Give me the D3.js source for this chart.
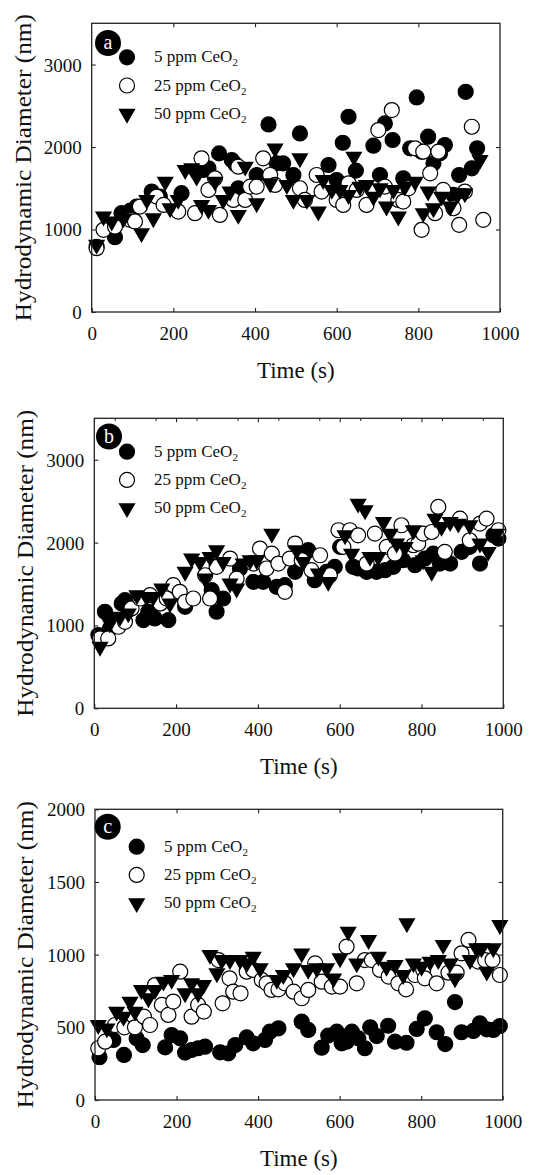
<!DOCTYPE html>
<html>
<head>
<meta charset="utf-8">
<script src="https://cdn.jsdelivr.net/npm/d3@7"></script>
<style>
  body { margin: 0; background: #fff; }
  text { font-family: "Liberation Serif", "DejaVu Serif", serif; fill: #111; }
</style>
</head>
<body>
<div id="chart"></div>
<script>
// series values, [time (s), hydrodynamic diameter (nm)]
const a5 = [[12,790],[57,907],[73,1198],[95,1230],[110,1278],[147,1460],[167,1399],[220,1440],[273,1722],[286,1742],
  [312,1923],[343,1843],[352,1790],[359,1500],[404,1661],[433,2274],[453,1802],[469,1802],[494,1661],[510,2165],
  [580,1782],[600,1600],[615,2052],[629,2367],[647,1714],[690,2016],[706,1661],[718,2286],[737,2085],[763,1621],
  [780,1984],[796,2601],[808,1944],[824,2125],[837,1802],[853,1923],[865,2024],[886,1419],[900,1661],[916,2669],
  [931,1742],[944,1984]];
const a25 = [[12,774],[29,996],[57,1036],[94,1117],[106,1097],[118,1278],[159,1399],[176,1298],[212,1218],[253,1198],
  [269,1863],[286,1480],[302,1621],[314,1177],[347,1359],[359,1762],[376,1359],[388,1520],[404,1520],[420,1863],
  [437,1661],[449,1540],[510,1500],[522,1359],[551,1661],[563,1460],[600,1359],[616,1298],[629,1560],[649,1480],
  [673,1298],[702,2206],[718,1520],[735,2448],[751,1359],[763,1339],[776,1500],[792,1984],[808,996],[812,1944],
  [829,1681],[841,1198],[849,1944],[861,1480],[886,1258],[900,1056],[914,1460],[931,2246],[959,1117]];
const a50 = [[12,815],[29,1157],[49,1097],[78,1137],[122,956],[135,1359],[151,1137],[180,1581],[192,1258],[212,1359],
  [229,1722],[245,1742],[257,1641],[269,1298],[286,1238],[302,1581],[322,1359],[339,1460],[359,1177],[376,1762],
  [404,1318],[437,1560],[449,1984],[478,1540],[494,1359],[510,1863],[527,1359],[555,1218],[567,1600],[588,1480],
  [608,1480],[629,1419],[642,1883],[657,1520],[673,1540],[690,1399],[706,1500],[722,1278],[739,1480],[751,1157],
  [767,1520],[792,1581],[812,1198],[824,1460],[837,1258],[857,1399],[878,1278],[898,1439],[914,1439],[951,1843]];

const b5 = [[10,884],[26,1165],[38,964],[51,1064],[67,1265],[75,1305],[83,1185],[120,1064],[132,1165],[148,1084],
  [161,1265],[181,1064],[222,1225],[287,1426],[299,1165],[315,1325],[356,1687],[389,1526],[413,1526],[446,1466],
  [466,1486],[491,1647],[523,1908],[539,1546],[568,1647],[588,1707],[601,1948],[633,1707],[645,1687],[666,1647],
  [690,1647],[711,1667],[731,1707],[755,1787],[784,1727],[808,1807],[829,1867],[845,1747],[870,1747],[898,1888],
  [918,1948],[943,1747],[976,2088],[988,2048]];
const b25 = [[14,843],[34,843],[59,984],[75,1044],[91,1205],[112,1325],[136,1365],[161,1265],[177,1325],[193,1486],
  [209,1406],[222,1285],[242,1325],[271,1606],[283,1325],[299,1707],[332,1807],[348,1566],[389,1747],[405,1928],
  [421,1687],[434,1867],[450,1747],[466,1406],[478,1807],[491,1988],[507,1787],[531,1667],[552,1847],[576,1606],
  [597,2149],[609,1948],[625,2149],[645,2088],[666,1747],[686,2108],[715,1948],[735,1867],[751,2209],[780,1968],
  [792,1988],[804,2108],[825,2128],[841,2430],[857,1888],[894,2289],[918,2028],[943,2229],[959,2289],[988,2149]];
const b50 = [[14,743],[38,1024],[63,1104],[83,1145],[104,1365],[128,1345],[144,1345],[165,1446],[185,1265],[222,1647],
  [238,1807],[258,1767],[271,1566],[283,1827],[299,1908],[315,1767],[332,1506],[348,1446],[364,1747],[381,1787],
  [397,1787],[434,2108],[495,1908],[511,1767],[548,1627],[572,1526],[613,2088],[629,1867],[645,2470],[662,2390],
  [674,1827],[694,1827],[707,2249],[723,2108],[739,1988],[760,1948],[780,2149],[804,1787],[825,1647],[833,2289],
  [849,2189],[870,2249],[890,2229],[918,2209],[943,1988],[963,1888],[984,2108]];

const c5 = [[11,294],[45,413],[71,310],[102,424],[117,378],[172,362],[188,447],[209,424],[221,326],[237,344],
  [253,356],[270,367],[307,328],[327,321],[344,378],[372,431],[388,390],[417,413],[429,470],[450,493],
  [507,539],[523,482],[556,360],[572,443],[593,470],[605,390],[617,401],[630,470],[646,424],[662,356],
  [675,500],[691,440],[719,511],[736,401],[764,394],[789,489],[809,562],[838,466],[859,385],[883,674],
  [899,466],[928,475],[944,528],[961,486],[977,482],[993,509]];
const c25 = [[8,356],[25,401],[49,516],[72,500],[98,500],[120,573],[135,516],[147,791],[164,654],[180,585],
  [192,677],[209,883],[237,573],[253,654],[267,608],[303,963],[313,665],[330,837],[339,745],[357,734],
  [372,883],[388,895],[409,826],[421,803],[433,757],[450,761],[466,803],[487,745],[507,700],[523,757],
  [540,940],[556,814],[581,780],[601,780],[617,1055],[642,803],[662,963],[679,963],[699,895],[720,849],
  [744,803],[763,761],[785,860],[805,895],[809,837],[838,803],[867,876],[887,876],[899,1009],[916,1101],
  [940,952],[957,963],[975,963],[993,860]];
const c50 = [[8,516],[29,493],[53,608],[70,573],[86,677],[98,608],[114,757],[131,700],[147,757],[168,814],
  [188,826],[221,734],[237,803],[253,734],[266,791],[282,998],[299,872],[311,963],[331,963],[356,963],
  [372,940],[388,986],[405,906],[446,826],[462,860],[487,906],[507,1009],[523,895],[544,906],[568,906],
  [585,837],[601,975],[621,1158],[642,940],[671,1101],[695,986],[715,917],[736,929],[756,860],[765,1216],
  [781,940],[801,917],[822,952],[842,963],[854,1067],[871,940],[883,837],[920,963],[936,1044],[948,1044],
  [961,883],[977,1044],[993,1204]];

const seriesNames = ["5 ppm CeO", "25 ppm CeO", "50 ppm CeO"];
const xTicks = [0, 200, 400, 600, 800, 1000];
const yTicksAB = [0, 1000, 2000, 3000];
const yTicksC = [0, 500, 1000, 1500, 2000];

const panels = [
  {label: "a", data: [a5, a25, a50], yMax: 3500, yTicks: yTicksAB,
   left: 91.7, right: 500, top: 23.3, bottom: 312, yLab: 31, legX: 127, legY: 57.3, textX: 154, badge: [108, 43], minorTop: false},
  {label: "b", data: [b5, b25, b50], yMax: 3500, yTicks: yTicksAB,
   left: 94.3, right: 503.3, top: 418.3, bottom: 708.3, yLab: 33, legX: 127, legY: 451.7, textX: 154, badge: [109, 436.5], minorTop: true},
  {label: "c", data: [c5, c25, c50], yMax: 2000, yTicks: yTicksC,
   left: 95, right: 502.7, top: 809.3, bottom: 1100, yLab: 33, legX: 136.7, legY: 846.7, textX: 164, badge: [107.7, 826.7], minorTop: false}
];

const svg = d3.select('#chart')
    .append('svg')
    .attr('width', 552)
    .attr('height', 1175);

const triangle = d3.symbol().type(d3.symbolTriangle).size(128);

function marker(sel, i) {
    if (i === 2) {
        sel.append('path')
            .attr('d', triangle)
            .attr('transform', 'rotate(180)')
            .attr('fill', '#000');
    } else {
        sel.append('circle')
            .attr('r', 7.5)
            .attr('fill', i === 0 ? '#000' : '#fff')
            .attr('stroke', '#000')
            .attr('stroke-width', 1.2);
    }
}

panels.forEach(p => {
    const x = d3.scaleLinear().domain([0, 1000]).range([p.left, p.right]);
    const y = d3.scaleLinear().domain([0, p.yMax]).range([p.bottom, p.top]);
    const g = svg.append('g');

    // points: 5 ppm, then 25 ppm, then 50 ppm on top
    p.data.forEach((series, i) => {
        g.append('g').selectAll('g')
            .data(series)
            .enter()
            .append('g')
            .attr('transform', d => `translate(${x(d[0])},${y(d[1])})`)
            .each(function() { marker(d3.select(this), i); });
    });

    // frame with inward ticks on all sides
    g.append('rect')
        .attr('x', p.left).attr('y', p.top)
        .attr('width', p.right - p.left).attr('height', p.bottom - p.top)
        .attr('fill', 'none').attr('stroke', '#222').attr('stroke-width', 1.3);

    const tl = 4;
    const gx = g.append('g').attr('transform', `translate(0,${p.bottom})`)
        .call(d3.axisBottom(x).tickValues(xTicks).tickSize(-tl).tickFormat(d3.format('d')));
    g.append('g').attr('transform', `translate(0,${p.top})`)
        .call(d3.axisTop(x).tickValues(xTicks.slice(1, -1)).tickSize(-tl).tickFormat(''));
    const gy = g.append('g').attr('transform', `translate(${p.left},0)`)
        .call(d3.axisLeft(y).tickValues(p.yTicks).tickSize(-tl).tickPadding(10).tickFormat(d3.format('d')));
    g.append('g').attr('transform', `translate(${p.right},0)`)
        .call(d3.axisRight(y).tickValues(p.yTicks.slice(1, -1)).tickSize(-tl).tickFormat(''));

    if (p.minorTop) {
        g.append('g').attr('transform', `translate(0,${p.top})`)
            .call(d3.axisTop(x).tickValues(d3.range(50, 1000, 100)).tickSize(-2.5).tickFormat(''));
    }

    g.selectAll('.domain').remove();
    g.selectAll('.tick line').attr('stroke', '#222').attr('stroke-width', 1.1);
    g.selectAll('.tick text').attr('font-size', 19).attr('fill', '#111')
        .attr('font-family', '"Liberation Serif", serif');
    gx.selectAll('text').attr('dy', null).attr('y', 28);
    gy.selectAll('text').attr('dy', '0.34em');

    // axis titles
    g.append('text')
        .attr('x', (p.left + p.right) / 2)
        .attr('y', p.bottom + 66)
        .attr('text-anchor', 'middle')
        .attr('font-size', 23)
        .text('Time (s)');

    g.append('text')
        .attr('transform', `translate(${p.yLab},${(p.top + p.bottom) / 2}) rotate(-90)`)
        .attr('text-anchor', 'middle')
        .attr('font-size', 23)
        .attr('textLength', 307)
        .attr('lengthAdjust', 'spacingAndGlyphs')
        .text('Hydrodynamic Diameter (nm)');

    // panel badge
    g.append('circle')
        .attr('cx', p.badge[0]).attr('cy', p.badge[1]).attr('r', 13)
        .attr('fill', '#000');
    g.append('text')
        .attr('x', p.badge[0]).attr('y', p.badge[1] + 6)
        .attr('text-anchor', 'middle')
        .attr('font-size', 20)
        .style('fill', '#fff')
        .text(p.label);

    // legend
    seriesNames.forEach((name, i) => {
        const cy = p.legY + i * 28.2;
        const m = g.append('g').attr('transform', `translate(${p.legX},${cy})`);
        marker(m, i);
        const t = g.append('text')
            .attr('x', p.textX)
            .attr('y', cy + 5)
            .attr('font-size', 17);
        t.append('tspan').text(name);
        t.append('tspan').attr('dy', 4).attr('font-size', 11).text('2');
    });
});
</script>
</body>
</html>
